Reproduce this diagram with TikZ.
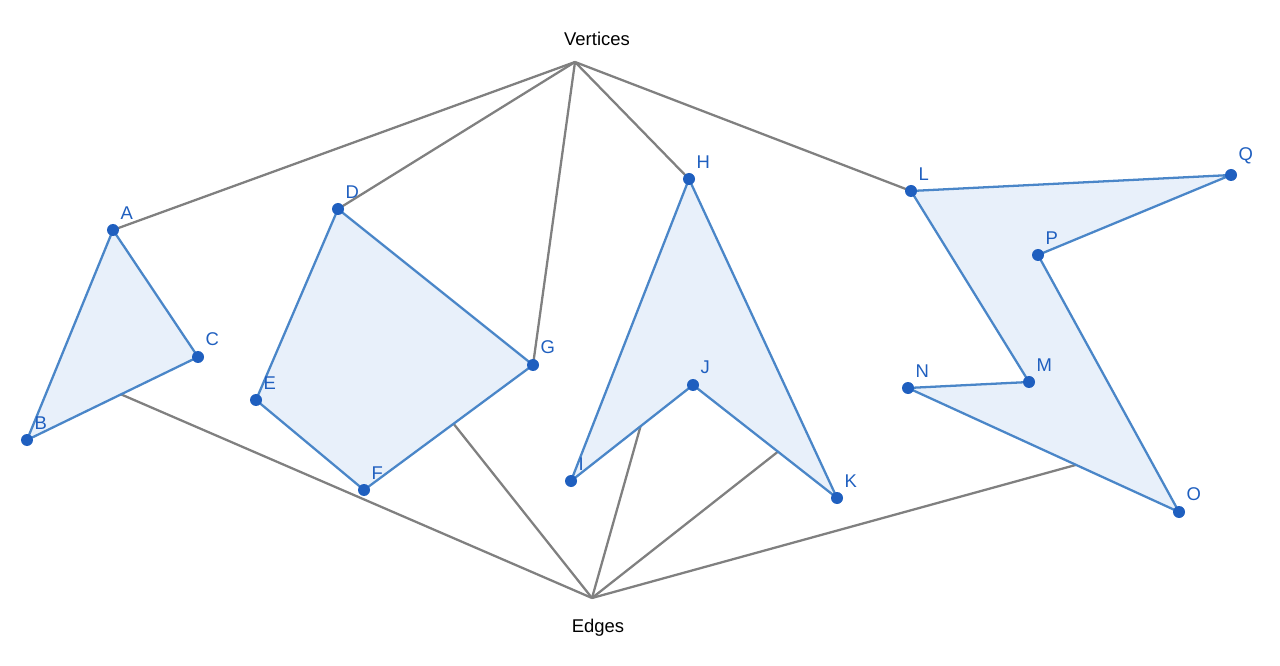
\documentclass[tikz,border=0pt]{standalone}
\usepackage{fontspec}
\setmainfont{Liberation Sans}
\usetikzlibrary{calc}
\definecolor{polyline}{HTML}{4A86C8}
\definecolor{polyfill}{HTML}{E8F0FA}
\definecolor{dotblue}{HTML}{1F5FBF}
\definecolor{linkgray}{HTML}{808080}
\tikzset{
  pt/.style={circle, fill=dotblue, inner sep=0pt, minimum size=0.24cm},
  lbl/.style={text=dotblue, font=\fontsize{10.5}{12}\selectfont, inner sep=1pt, label distance=0.08cm},
  poly/.style={draw=polyline, fill=polyfill, line width=1.3pt, line join=round},
  link/.style={draw=linkgray, line width=1.3pt},
}
\begin{document}
\begin{tikzpicture}
\useasboundingbox (0,0) rectangle (25.6,13.3);
% Punkte
\coordinate (A) at (2.26,8.70);
\coordinate (B) at (0.54,4.50);
\coordinate (C) at (3.96,6.16);
\coordinate (D) at (6.76,9.12);
\coordinate (E) at (5.12,5.30);
\coordinate (F) at (7.28,3.50);
\coordinate (G) at (10.66,6.00);
\coordinate (H) at (13.78,9.72);
\coordinate (I) at (11.42,3.68);
\coordinate (J) at (13.86,5.60);
\coordinate (K) at (16.74,3.34);
\coordinate (L) at (18.22,9.48);
\coordinate (Q) at (24.62,9.80);
\coordinate (P) at (20.76,8.20);
\coordinate (O) at (23.58,3.06);
\coordinate (N) at (18.16,5.54);
\coordinate (M) at (20.58,5.66);
\coordinate (vtop) at (11.50,12.06);
\coordinate (ebot) at (11.84,1.34);
\node[font=\fontsize{10.5}{12}\selectfont] (vtx) at (11.94,12.52) {Vertices};
\node[font=\fontsize{10.5}{12}\selectfont] (edg) at (11.96,0.74) {Edges};

% Flaechen
\fill[polyfill] (A) -- (C) -- (B) -- cycle;
\fill[polyfill] (D) -- (G) -- (F) -- (E) -- cycle;
\fill[polyfill] (H) -- (K) -- (J) -- (I) -- cycle;
\fill[polyfill] (L) -- (Q) -- (P) -- (O) -- (N) -- (M) -- cycle;

% Verbindungen
\foreach \v in {A,D,G,H,L}
  \draw[link] (vtop) -- (\v);
\draw[link] (ebot) -- ($(B)!0.55!(C)$);
\draw[link] (ebot) -- ($(F)!0.53!(G)$);
\draw[link] (ebot) -- ($(I)!0.57!(J)$);
\draw[link] (ebot) -- ($(J)!0.59!(K)$);
\draw[link] (ebot) -- ($(N)!0.62!(O)$);

% Kanten
\draw[poly, fill=none] (A) -- (C) -- (B) -- cycle;
\draw[poly, fill=none] (D) -- (G) -- (F) -- (E) -- cycle;
\draw[poly, fill=none] (H) -- (K) -- (J) -- (I) -- cycle;
\draw[poly, fill=none] (L) -- (Q) -- (P) -- (O) -- (N) -- (M) -- cycle;

% Knoten
\foreach \p in {A,B,C,D,E,F,G,H,I,J,K,L,M,N,O,P,Q}
  \node[pt, label={[lbl]58:\p}] (n\p) at (\p) {};
\end{tikzpicture}
\end{document}
